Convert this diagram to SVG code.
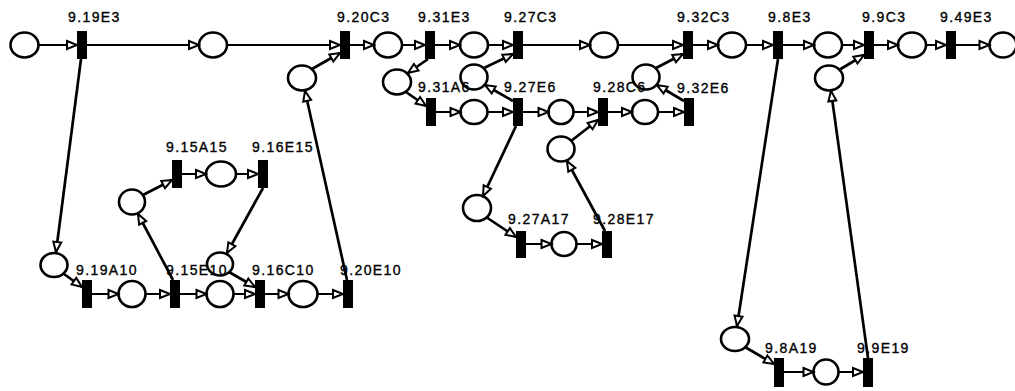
<svg xmlns="http://www.w3.org/2000/svg" width="1015" height="391" viewBox="0 0 1015 391">
<defs>
<marker id="arr" markerUnits="userSpaceOnUse" markerWidth="14" markerHeight="12" viewBox="-2 -2 14 12" refX="10" refY="4" orient="auto">
<path d="M0,0 L10,4 L0,8 Z" fill="#fff" stroke="#000" stroke-width="2" stroke-linejoin="miter"/>
</marker>
<style>
.p{fill:none;stroke:#000;stroke-width:2.6}
.t{fill:#000}
.l{font-family:"Liberation Sans",Arial,sans-serif;font-size:14px;letter-spacing:1.4px;fill:#000;stroke:#000;stroke-width:0.35}
.c{stroke:#000;stroke-width:2;fill:none;marker-end:url(#arr)}
.d{stroke:#000;stroke-width:2.7;fill:none;marker-end:url(#arr)}
</style>
</defs>
<rect width="1015" height="391" fill="#fff"/>
<g id="places">
<g id="P1"><ellipse class="p" cx="24.5" cy="45" rx="14" ry="12.5"/></g>
<g id="P2"><ellipse class="p" cx="213" cy="45" rx="14" ry="12.5"/></g>
<g id="P3"><ellipse class="p" cx="388" cy="45" rx="14" ry="12.5"/></g>
<g id="P4"><ellipse class="p" cx="474" cy="45" rx="14" ry="12.5"/></g>
<g id="P5"><ellipse class="p" cx="604" cy="45" rx="14" ry="12.5"/></g>
<g id="P6"><ellipse class="p" cx="732" cy="45" rx="14" ry="12.5"/></g>
<g id="P7"><ellipse class="p" cx="828" cy="45" rx="14" ry="12.5"/></g>
<g id="P8"><ellipse class="p" cx="912" cy="45" rx="14" ry="12.5"/></g>
<g id="P9"><ellipse class="p" cx="1003" cy="45" rx="13.5" ry="12.5"/></g>
<g id="P10"><ellipse class="p" cx="302" cy="78" rx="14" ry="12.5"/></g>
<g id="P11"><ellipse class="p" cx="397" cy="82" rx="14" ry="12.5"/></g>
<g id="P12"><ellipse class="p" cx="474" cy="77" rx="13.5" ry="12.5"/></g>
<g id="P13"><ellipse class="p" cx="646" cy="77" rx="13.5" ry="12.5"/></g>
<g id="P14"><ellipse class="p" cx="829" cy="78" rx="14" ry="12.5"/></g>
<g id="P15"><ellipse class="p" cx="474" cy="112" rx="13.5" ry="12"/></g>
<g id="P16"><ellipse class="p" cx="561" cy="112" rx="12.5" ry="12"/></g>
<g id="P17"><ellipse class="p" cx="645" cy="112" rx="13" ry="12"/></g>
<g id="P18"><ellipse class="p" cx="561" cy="149" rx="13.5" ry="12.5"/></g>
<g id="P19"><ellipse class="p" cx="477" cy="208" rx="14" ry="13"/></g>
<g id="P20"><ellipse class="p" cx="564" cy="244" rx="12.5" ry="12"/></g>
<g id="P21"><ellipse class="p" cx="54" cy="265" rx="13.5" ry="12"/></g>
<g id="P22"><ellipse class="p" cx="132" cy="294" rx="13.5" ry="13"/></g>
<g id="P23"><ellipse class="p" cx="220" cy="294" rx="13.5" ry="13"/></g>
<g id="P24"><ellipse class="p" cx="303" cy="294" rx="14.5" ry="13"/></g>
<g id="P25"><ellipse class="p" cx="132" cy="202" rx="13" ry="12.5"/></g>
<g id="P26"><ellipse class="p" cx="221" cy="174" rx="15" ry="12.5"/></g>
<g id="P27"><ellipse class="p" cx="220" cy="264" rx="13" ry="11.5"/></g>
<g id="P28"><ellipse class="p" cx="735" cy="339" rx="14" ry="12"/></g>
<g id="P29"><ellipse class="p" cx="826" cy="372" rx="12.5" ry="12.5"/></g>
</g>
<g id="transitions">
<g id="T_9.19E3"><rect class="t" x="77" y="31" width="10" height="28"/><text class="l" x="68" y="22">9.19E3</text></g>
<g id="T_9.20C3"><rect class="t" x="340" y="31" width="10" height="28"/><text class="l" x="337" y="22">9.20C3</text></g>
<g id="T_9.31E3"><rect class="t" x="425" y="31" width="10" height="28"/><text class="l" x="418" y="22">9.31E3</text></g>
<g id="T_9.27C3"><rect class="t" x="513" y="31" width="10" height="28"/><text class="l" x="504" y="22">9.27C3</text></g>
<g id="T_9.32C3"><rect class="t" x="683" y="31" width="10" height="28"/><text class="l" x="677" y="22">9.32C3</text></g>
<g id="T_9.8E3"><rect class="t" x="773" y="31" width="10" height="28"/><text class="l" x="768" y="22">9.8E3</text></g>
<g id="T_9.9C3"><rect class="t" x="864" y="31" width="10" height="28"/><text class="l" x="862" y="22">9.9C3</text></g>
<g id="T_9.49E3"><rect class="t" x="946" y="31" width="10" height="28"/><text class="l" x="940" y="22">9.49E3</text></g>
<g id="T_9.31A6"><rect class="t" x="426" y="98" width="10" height="28"/><text class="l" x="418" y="92">9.31A6</text></g>
<g id="T_9.27E6"><rect class="t" x="513" y="98" width="10" height="28"/><text class="l" x="504" y="92">9.27E6</text></g>
<g id="T_9.28C6"><rect class="t" x="598" y="98" width="10" height="28"/><text class="l" x="593" y="92">9.28C6</text></g>
<g id="T_9.32E6"><rect class="t" x="684" y="98" width="10" height="28"/><text class="l" x="677" y="93">9.32E6</text></g>
<g id="T_9.15A15"><rect class="t" x="172" y="160" width="10" height="28"/><text class="l" x="166" y="152">9.15A15</text></g>
<g id="T_9.16E15"><rect class="t" x="258" y="160" width="10" height="28"/><text class="l" x="252" y="152">9.16E15</text></g>
<g id="T_9.19A10"><rect class="t" x="82" y="280" width="10" height="28"/><text class="l" x="76" y="275">9.19A10</text></g>
<g id="T_9.15E10"><rect class="t" x="170" y="280" width="10" height="28"/><text class="l" x="166" y="275">9.15E10</text></g>
<g id="T_9.16C10"><rect class="t" x="255" y="280" width="10" height="28"/><text class="l" x="252" y="275">9.16C10</text></g>
<g id="T_9.20E10"><rect class="t" x="343" y="280" width="10" height="28"/><text class="l" x="340" y="275">9.20E10</text></g>
<g id="T_9.27A17"><rect class="t" x="516" y="231" width="10" height="27"/><text class="l" x="508" y="224">9.27A17</text></g>
<g id="T_9.28E17"><rect class="t" x="602" y="231" width="10" height="27"/><text class="l" x="593" y="224">9.28E17</text></g>
<g id="T_9.8A19"><rect class="t" x="774" y="358" width="10" height="29"/><text class="l" x="765" y="353">9.8A19</text></g>
<g id="T_9.9E19"><rect class="t" x="863" y="358" width="10" height="29"/><text class="l" x="857" y="353">9.9E19</text></g>
</g>
<g id="connectors">
<line class="c" x1="38.5" y1="45" x2="77" y2="45"/>
<line class="c" x1="87" y1="45" x2="199" y2="45"/>
<line class="c" x1="227" y1="45" x2="340" y2="45"/>
<line class="c" x1="350" y1="45" x2="374" y2="45"/>
<line class="c" x1="402" y1="45" x2="425" y2="45"/>
<line class="c" x1="435" y1="45" x2="460" y2="45"/>
<line class="c" x1="488" y1="45" x2="513" y2="45"/>
<line class="c" x1="523" y1="45" x2="590" y2="45"/>
<line class="c" x1="618" y1="45" x2="683" y2="45"/>
<line class="c" x1="693" y1="45" x2="718" y2="45"/>
<line class="c" x1="746" y1="45" x2="773" y2="45"/>
<line class="c" x1="783" y1="45" x2="814" y2="45"/>
<line class="c" x1="842" y1="45" x2="864" y2="45"/>
<line class="c" x1="874" y1="45" x2="898" y2="45"/>
<line class="c" x1="926" y1="45" x2="946" y2="45"/>
<line class="c" x1="956" y1="45" x2="989.5" y2="45"/>
<line class="c" x1="436" y1="112" x2="460.5" y2="112"/>
<line class="c" x1="487.5" y1="112" x2="513" y2="112"/>
<line class="c" x1="523" y1="112" x2="548.5" y2="112"/>
<line class="c" x1="573.5" y1="112" x2="598" y2="112"/>
<line class="c" x1="608" y1="112" x2="632" y2="112"/>
<line class="c" x1="658" y1="112" x2="684" y2="112"/>
<line class="c" x1="92" y1="294" x2="118.5" y2="294"/>
<line class="c" x1="145.5" y1="294" x2="170" y2="294"/>
<line class="c" x1="180" y1="294" x2="206.5" y2="294"/>
<line class="c" x1="233.5" y1="294" x2="255" y2="294"/>
<line class="c" x1="265" y1="294" x2="288.5" y2="294"/>
<line class="c" x1="317.5" y1="294" x2="343" y2="294"/>
<line class="c" x1="182" y1="174" x2="206" y2="174"/>
<line class="c" x1="236" y1="174" x2="258" y2="174"/>
<line class="c" x1="526" y1="244" x2="551.5" y2="244"/>
<line class="c" x1="576.5" y1="244" x2="602" y2="244"/>
<line class="c" x1="784" y1="372" x2="813.5" y2="372"/>
<line class="c" x1="838.5" y1="372" x2="863" y2="372"/>
<line class="d" x1="81" y1="59" x2="56" y2="252"/>
<line class="d" x1="64" y1="274" x2="82" y2="287"/>
<line class="d" x1="173" y1="280" x2="138" y2="214"/>
<line class="d" x1="143" y1="195" x2="172" y2="180"/>
<line class="d" x1="263" y1="188" x2="227" y2="253"/>
<line class="d" x1="229" y1="272" x2="255" y2="287"/>
<line class="d" x1="347" y1="280" x2="305" y2="91"/>
<line class="d" x1="312" y1="69" x2="340" y2="53"/>
<line class="d" x1="428" y1="59" x2="408" y2="73"/>
<line class="d" x1="406" y1="92" x2="426" y2="106"/>
<line class="d" x1="513" y1="101" x2="485" y2="85"/>
<line class="d" x1="484" y1="68" x2="513" y2="54"/>
<line class="d" x1="516" y1="126" x2="483" y2="196"/>
<line class="d" x1="486" y1="217" x2="516" y2="237"/>
<line class="d" x1="605" y1="231" x2="567" y2="161"/>
<line class="d" x1="571" y1="141" x2="598" y2="120"/>
<line class="d" x1="684" y1="101" x2="657" y2="85"/>
<line class="d" x1="656" y1="68" x2="683" y2="54"/>
<line class="d" x1="778" y1="59" x2="737" y2="326"/>
<line class="d" x1="745" y1="347" x2="774" y2="364"/>
<line class="d" x1="868" y1="358" x2="831" y2="91"/>
<line class="d" x1="839" y1="70" x2="864" y2="55"/>
</g>
</svg>
